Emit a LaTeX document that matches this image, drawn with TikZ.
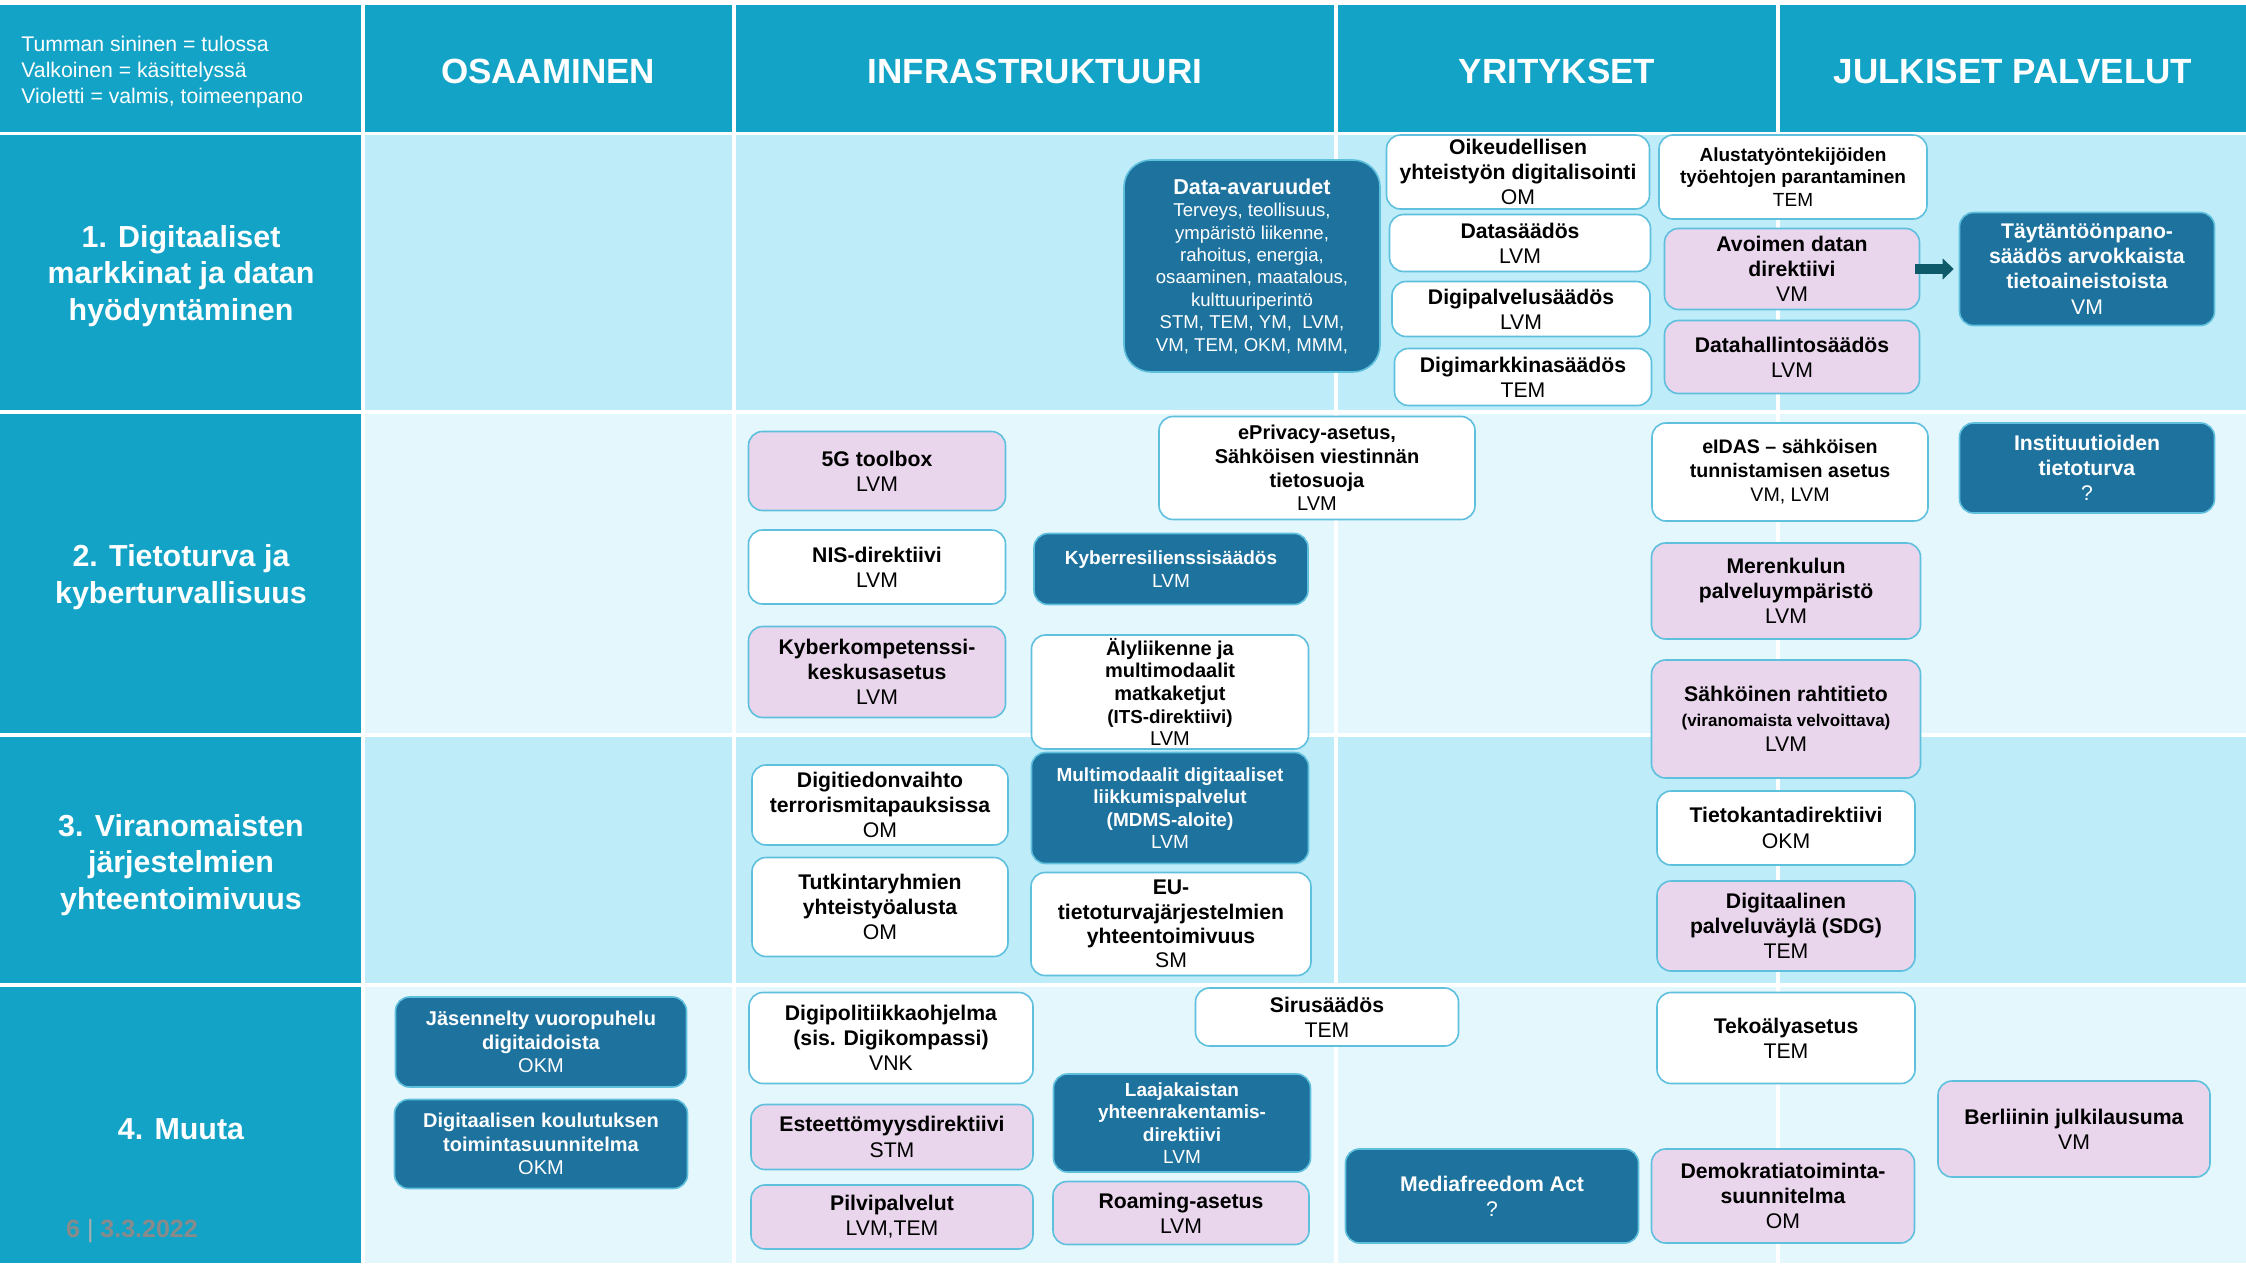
\documentclass[tikz,border=0pt]{standalone}
\usepackage{fontspec}
\setmainfont{Liberation Sans}
\usepackage{tikz}
\usetikzlibrary{arrows.meta,positioning}

\definecolor{headblue}{RGB}{18,163,198}
\definecolor{rowA}{RGB}{190,236,248}
\definecolor{rowB}{RGB}{228,247,252}
\definecolor{cDark}{RGB}{30,114,158}
\definecolor{cViolet}{RGB}{233,213,236}
\definecolor{cLine}{RGB}{95,192,222}
\definecolor{cArrow}{RGB}{14,90,106}
\definecolor{cFoot}{RGB}{138,138,138}

\newcommand{\tfont}{\fontsize{10.6}{12.6}\selectfont}
\newcommand{\sfont}{\fontsize{9.5}{11.2}\selectfont}
\newcommand{\mfont}{\fontsize{10}{11.8}\selectfont}

\begin{document}
\begin{tikzpicture}[x=0.5pt, y=-0.5pt,
   wh/.style 2 args={minimum width=#1*0.5pt, minimum height=#2*0.5pt},
   box/.style={rounded corners=7pt, draw=cLine, line width=0.8pt, align=center, inner sep=2pt, font=\tfont},
   coltitle/.style={text=white, font=\fontsize{17.5}{20}\selectfont\bfseries},
   rowtitle/.style={text=white, align=center, font=\fontsize{15.2}{18.4}\selectfont\bfseries}]
   % table background
   \fill[white] (0,0) rectangle (2246,1263);
   \foreach \xa/\xb in {0/361,365/732,736/1334,1338/1776,1780/2246}
     \fill[headblue] (\xa,5) rectangle (\xb,132);
   \foreach \ya/\yb/\c in {135/410/rowA,414/733/rowB,737/983/rowA,987/1263/rowB}{
     \fill[headblue] (0,\ya) rectangle (361,\yb);
     \foreach \xa/\xb in {365/732,736/1334,1338/1776,1780/2246}
       \fill[\c] (\xa,\ya) rectangle (\xb,\yb);
   }
   % headers
   \node (legend) [anchor=west, align=left, inner sep=0pt, text=white, font=\fontsize{10.6}{12.9}\selectfont] at (21,72)
     {Tumman sininen = tulossa\\Valkoinen = käsittelyssä\\Violetti = valmis, toimeenpano};
   \node (osaaminen) [coltitle] at (548,71) {OSAAMINEN};
   \node (infra) [coltitle] at (1035,71) {INFRASTRUKTUURI};
   \node (yritykset) [coltitle] at (1557,71) {YRITYKSET};
   \node (julkiset) [coltitle] at (2013,71) {JULKISET PALVELUT};
   \node (markkinat) [rowtitle] at (181,276) {1. Digitaaliset\\markkinat ja datan\\hyödyntäminen};
   \node (tietoturva) [rowtitle] at (181,577) {2. Tietoturva ja\\kyberturvallisuus};
   \node (viranomaiset) [rowtitle] at (181,865) {3. Viranomaisten\\järjestelmien\\yhteentoimivuus};
   \node (muuta) [rowtitle] at (181,1129) {4. Muuta};
   \node (sivu) [text=cFoot, font=\fontsize{12.5}{14}\selectfont\bfseries] at (132,1231)
     {6 \textcolor{cFoot!70}{\mdseries|} 3.3.2022};

   % white = kasittelyssa
   \begin{scope}[every node/.style={box, fill=white, text=black}]
    \node (oikeud) [wh={263}{74}] at (1518,172) {\textbf{Oikeudellisen}\\\textbf{yhteistyön digitalisointi}\\OM};
    \node (datas) [wh={261}{57}] at (1520,243) {\textbf{Datasäädös}\\LVM};
    \node (digipal) [wh={258}{55}] at (1521,309) {\textbf{Digipalvelusäädös}\\LVM};
    \node (digimark) [wh={257}{57}] at (1523,377) {\textbf{Digimarkkinasäädös}\\TEM};
    \node (alusta) [wh={268}{84}, font=\sfont] at (1793,177) {\textbf{Alustatyöntekijöiden}\\\textbf{työehtojen parantaminen}\\TEM};
    \node (nis) [wh={257}{74}] at (877,567) {\textbf{NIS-direktiivi}\\LVM};
    \node (eprivacy) [wh={316}{103}, font=\mfont] at (1317,468) {\textbf{ePrivacy-asetus,}\\\textbf{Sähköisen viestinnän}\\\textbf{tietosuoja}\\LVM};
    \node (alyliik) [wh={277}{114}, inner sep=0.5pt, font=\fontsize{10}{11.3}\selectfont] at (1170,692)
      {\textbf{Älyliikenne ja}\\\textbf{multimodaalit}\\\textbf{matkaketjut}\\{\fontsize{9.4}{11}\selectfont\bfseries(ITS-direktiivi)}\\LVM};
    \node (eidas) [wh={276}{98}, font=\fontsize{9.8}{12}\selectfont] at (1790,472) {\textbf{eIDAS – sähköisen}\\\textbf{tunnistamisen asetus}\\VM, LVM};
    \node (digitied) [wh={256}{80}] at (880,805) {\textbf{Digitiedonvaihto}\\\textbf{terrorismitapauksissa}\\OM};
    \node (tutkinta) [wh={256}{99}] at (880,907) {\textbf{Tutkintaryhmien}\\\textbf{yhteistyöalusta}\\OM};
    \node (eutieto) [wh={280}{103}, font=\fontsize{10.6}{12.2}\selectfont] at (1171,924) {\textbf{EU-}\\\textbf{tietoturvajärjestelmien}\\\textbf{yhteentoimivuus}\\SM};
    \node (tietok) [wh={258}{74}] at (1786,828) {\textbf{Tietokantadirektiivi}\\OKM};
    \node (digipol) [wh={284}{91}] at (891,1038) {\textbf{Digipolitiikkaohjelma}\\\textbf{(sis. Digikompassi)}\\VNK};
    \node (sirus) [wh={263}{58}] at (1327,1017) {\textbf{Sirusäädös}\\TEM};
    \node (tekoaly) [wh={258}{91}] at (1786,1038) {\textbf{Tekoälyasetus}\\TEM};
   \end{scope}

   % violetti = valmis
   \begin{scope}[every node/.style={box, fill=cViolet, text=black}]
    \node (avoimen) [wh={255}{81}] at (1792,269) {\textbf{Avoimen datan}\\\textbf{direktiivi}\\VM};
    \node (datahal) [wh={255}{73}] at (1792,357) {\textbf{Datahallintosäädös}\\LVM};
    \node (fiveg) [wh={257}{79}] at (877,471) {\textbf{5G toolbox}\\LVM};
    \node (kyberkomp) [wh={257}{91}] at (877,672) {\textbf{Kyberkompetenssi-}\\\textbf{keskusasetus}\\LVM};
    \node (merenk) [wh={269}{96}] at (1786,591) {\textbf{Merenkulun}\\\textbf{palveluympäristö}\\LVM};
    \node (rahti) [wh={269}{118}] at (1786,719)
      {\textbf{Sähköinen rahtitieto}\\{\fontsize{8.5}{10.5}\selectfont\bfseries(viranomaista velvoittava)}\\LVM};
    \node (sdg) [wh={258}{90}] at (1786,926) {\textbf{Digitaalinen}\\\textbf{palveluväylä (SDG)}\\TEM};
    \node (esteet) [wh={282}{65}] at (892,1137) {\textbf{Esteettömyysdirektiivi}\\STM};
    \node (pilvi) [wh={282}{64}] at (892,1217) {\textbf{Pilvipalvelut}\\LVM,TEM};
    \node (roaming) [wh={256}{63}] at (1181,1213) {\textbf{Roaming-asetus}\\LVM};
    \node (demokr) [wh={263}{94}] at (1783,1196) {\textbf{Demokratiatoiminta-}\\\textbf{suunnitelma}\\OM};
    \node (berliini) [wh={272}{96}] at (2074,1129) {\textbf{Berliinin julkilausuma}\\VM};
   \end{scope}

   % tumman sininen = tulossa
   \begin{scope}[every node/.style={box, fill=cDark, text=white}]
    \node (dataav) [wh={256}{212}, rounded corners=13.5pt, font=\fontsize{9.3}{11.2}\selectfont] at (1252,266)
      {{\fontsize{10.8}{12.5}\selectfont\bfseries Data-avaruudet}\\Terveys, teollisuus,\\ympäristö liikenne,\\rahoitus, energia,\\osaaminen, maatalous,\\kulttuuriperintö\\STM, TEM, YM,\ \ LVM,\\VM, TEM, OKM, MMM,};
    \node (taytant) [wh={255}{113}] at (2087,269) {\textbf{Täytäntöönpano-}\\\textbf{säädös arvokkaista}\\\textbf{tietoaineistoista}\\VM};
    \node (kyberres) [wh={274}{71}, font=\sfont] at (1171,569) {\textbf{Kyberresilienssisäädös}\\LVM};
    \node (instit) [wh={255}{90}] at (2087,468) {\textbf{Instituutioiden}\\\textbf{tietoturva}\\?};
    \node (mdms) [wh={277}{111}, font=\sfont] at (1170,808) {\textbf{Multimodaalit digitaaliset}\\\textbf{liikkumispalvelut}\\\textbf{(MDMS-aloite)}\\LVM};
    \node (jasen) [wh={291}{90}, font=\mfont] at (541,1042) {\textbf{Jäsennelty vuoropuhelu}\\\textbf{digitaidoista}\\OKM};
    \node (koulut) [wh={293}{89}, font=\mfont] at (541,1144) {\textbf{Digitaalisen koulutuksen}\\\textbf{toimintasuunnitelma}\\OKM};
    \node (laajak) [wh={257}{98}, font=\sfont] at (1182,1123) {\textbf{Laajakaistan}\\\textbf{yhteenrakentamis-}\\\textbf{direktiivi}\\LVM};
    \node (media) [wh={293}{94}] at (1492,1196) {\textbf{Mediafreedom Act}\\?};
   \end{scope}

   \draw [cArrow, line width=5pt, shorten <=-2.5pt, shorten >=2.5pt,
          -{Triangle[length=5.5pt, width=10.5pt, line width=0pt]}] (avoimen) -- (taytant);
\end{tikzpicture}
\end{document}
